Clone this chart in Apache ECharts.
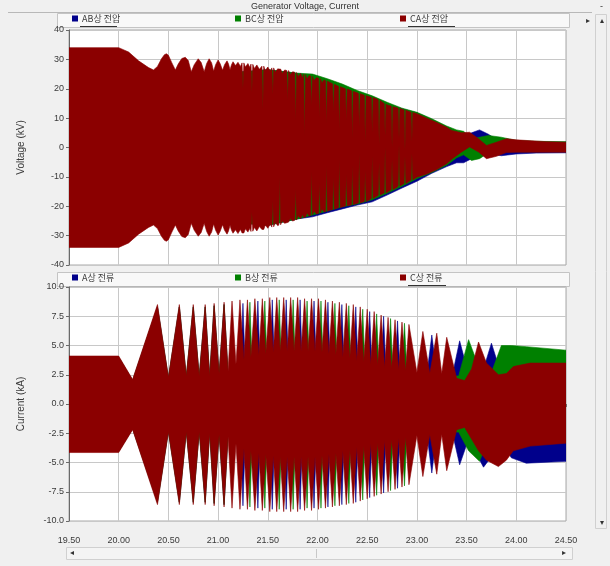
<!DOCTYPE html>
<html><head><meta charset="utf-8">
<script src="https://cdn.jsdelivr.net/npm/echarts@6/dist/echarts.min.js"></script>
<style>html,body{margin:0;padding:0;background:#f0f0f0;}#c{width:610px;height:566px;}</style>
</head><body><div id="c"></div>
<script>
const chartTitle = 'Generator Voltage, Current';
const voltNames = ['AB상 전압', 'BC상 전압', 'CA상 전압'];
const currNames = ['A상 전류', 'B상 전류', 'C상 전류'];
const phaseColors = ['#00008b', '#008000', '#8b0000'];
const voltAxisName = 'Voltage (kV)';
const currAxisName = 'Current (kA)';

// envelope rows: [time s, upper, lower]
const voltAB = [
 [19.50,33.5,-33.5],[20.00,33.5,-33.5],[20.35,25.5,-25.5],[21.15,25.5,-25.5],[21.50,26.5,-26.5],
 [21.80,25.2,-24.3],[21.95,24.4,-23.6],[22.10,22.6,-22.2],[22.25,20.8,-20.9],[22.40,19.0,-19.6],
 [22.55,17.3,-18.5],[22.70,15.0,-16.2],[22.85,13.2,-13.8],[23.00,11.8,-11.5],[23.15,9.5,-8.8],
 [23.30,6.8,-6.5],[23.40,5.5,-5.2],[23.47,4.0,-5.2],[23.55,5.0,-3.8],[23.63,6.0,-1.5],
 [23.72,4.5,-2.0],[23.85,1.5,-2.8],[24.00,1.8,-2.2],[24.20,1.8,-1.9],[24.50,1.8,-1.8]
];
const voltBC = [
 [19.50,33.5,-33.5],[20.00,33.5,-33.5],[20.35,25.5,-25.5],[21.15,25.5,-25.5],[21.50,26.5,-26.5],
 [21.80,25.3,-24.3],[21.95,25.0,-23.0],[22.10,23.4,-21.6],[22.25,21.6,-20.2],[22.40,19.4,-19.2],
 [22.55,17.6,-17.8],[22.70,15.4,-15.6],[22.85,13.4,-13.2],[23.00,12.0,-10.6],[23.15,9.8,-8.5],
 [23.30,7.3,-6.0],[23.40,6.0,-3.5],[23.47,5.5,-2.5],[23.55,3.0,-4.4],[23.63,3.5,-3.8],
 [23.72,4.1,-1.8],[23.85,3.5,-1.4],[24.00,2.4,-1.4],[24.20,2.1,-1.4],[24.50,2.0,-1.4]
];
const voltCA = [
 [19.50,34.0,-34.0],[20.00,34.0,-34.0],[20.10,32.5,-32.5],[20.20,29.5,-29.5],[20.30,27.2,-27.2],
 [20.35,26.4,-26.4],[20.39,27.6,-27.6],[20.43,30.2,-30.2],[20.46,31.6,-31.6],[20.48,31.9,-31.9],
 [20.50,31.4,-31.4],[20.535,28.8,-28.8],[20.57,26.4,-26.4],[20.60,28.5,-28.5],[20.635,30.3,-30.3],
 [20.67,30.7,-30.7],[20.70,29.6,-29.6],[20.73,25.8,-25.8],[20.76,28.2,-28.2],[20.80,30.2,-30.2],
 [20.83,28.9,-28.9],[20.86,25.8,-25.8],[20.885,28.6,-28.6],[20.91,30.2,-30.2],[20.935,28.8,-28.8],
 [20.955,26.0,-26.0],[20.975,28.2,-28.2],[21.00,29.8,-29.8],[21.02,28.6,-28.6],[21.045,26.3,-26.3],
 [21.065,28.2,-28.2],[21.09,29.5,-29.5],[21.105,28.4,-28.4],[21.12,26.5,-26.5],[21.135,28.2,-28.2],
 [21.15,29.2,-29.2],[21.175,27.9,-28.0],[21.20,29.0,-29.3],[21.225,27.6,-27.9],
 [21.241,28.8,-29.1],[21.25,20.0,-29.1],[21.259,28.8,-29.1],[21.275,27.4,-27.7],[21.30,28.6,-28.8],
 [21.32,27.2,-27.5],[21.331,28.4,-28.6],[21.34,18.8,-22.0],[21.349,28.3,-28.5],[21.365,26.9,-27.2],
 [21.39,28.1,-28.4],[21.415,26.6,-26.9],[21.441,27.7,-27.9],[21.45,13.0,-27.9],[21.459,27.7,-27.9],
 [21.475,26.2,-26.4],[21.50,27.4,-27.5],[21.525,26.0,-26.1],[21.541,27.1,-27.1],[21.55,18.0,-18.0],
 [21.559,27.1,-27.0],[21.575,25.6,-25.5],[21.60,26.8,-26.6],[21.611,26.7,-26.4],[21.62,26.7,-10.0],
 [21.629,26.7,-26.3],[21.645,25.2,-25.0],[21.67,26.4,-25.8],[21.691,26.2,-25.6],[21.70,16.0,-25.5],
 [21.709,26.2,-25.4],[21.725,24.8,-24.2],[21.75,25.8,-25.0],[21.771,25.6,-24.8],[21.78,9.0,-14.0],
 [21.789,25.5,-24.7],[21.805,24.1,-23.2],[21.83,25.2,-24.2],[21.85,23.7,-22.8],[21.861,24.9,-23.8],
 [21.87,4.0,-23.7],[21.879,24.8,-23.7],[21.895,23.3,-22.2],[21.915,24.5,-23.3],[21.931,24.3,-23.0],
 [21.94,14.0,-8.0],[21.949,24.2,-22.9],[21.965,22.8,-21.7],[21.99,23.8,-22.6],[22.011,23.5,-22.4],
 [22.02,10.0,-12.0],[22.029,23.4,-22.3],[22.045,22.0,-20.9],[22.065,23.0,-21.9],[22.081,22.7,-21.8],
 [22.09,8.0,-6.0],[22.099,22.6,-21.7],[22.12,22.2,-21.4],[22.151,21.7,-21.1],[22.16,12.0,-10.0],
 [22.169,21.5,-21.0],[22.20,21.0,-20.6],[22.211,20.8,-20.4],[22.22,6.0,-4.0],[22.229,20.7,-20.4],
 [22.281,20.0,-19.9],[22.29,9.0,-9.0],[22.299,19.9,-19.8],[22.341,19.3,-19.5],[22.35,3.0,-6.0],
 [22.359,19.1,-19.4],[22.40,18.6,-19.0],[22.411,18.4,-18.9],[22.42,7.0,-2.0],[22.429,18.3,-18.8],
 [22.471,17.8,-18.4],[22.48,2.0,-8.0],[22.489,17.7,-18.3],[22.50,17.5,-18.2],[22.541,17.1,-17.4],
 [22.55,5.0,-3.0],[22.559,17.0,-17.3],[22.60,16.5,-16.5],[22.611,16.2,-16.3],[22.62,1.0,-5.0],
 [22.629,16.0,-16.2],[22.671,15.0,-15.5],[22.68,4.0,0.0],[22.689,14.8,-15.4],[22.70,14.5,-15.2],
 [22.741,14.1,-14.4],[22.75,0.0,-4.0],[22.759,13.9,-14.3],[22.80,13.5,-13.5],[22.811,13.4,-13.2],
 [22.82,3.0,1.0],[22.829,13.3,-13.1],[22.871,12.8,-12.3],[22.88,-1.0,-3.0],[22.889,12.7,-12.2],
 [22.90,12.5,-12.0],[22.941,12.0,-11.1],[22.95,2.0,-2.0],[22.959,11.9,-11.0],[23.00,11.5,-10.1],
 [23.10,10.0,-9.0],[23.20,8.5,-7.5],[23.30,6.9,-5.5],[23.35,5.8,-4.0],[23.45,5.0,-1.5],
 [23.53,5.2,0.2],[23.62,3.0,-1.5],[23.70,0.7,-3.8],[23.80,1.8,-3.0],[23.90,3.0,-1.7],
 [24.00,2.6,-1.6],[24.15,2.3,-1.6],[24.30,2.0,-1.6],[24.50,1.8,-1.6]
];

const currA = [
 [19.50,4.0,-4.05],[20.00,4.0,-4.05],[20.14,2.0,-2.1],[20.39,8.3,-8.4],[20.50,2.2,-2.3],
 [20.61,8.3,-8.4],[20.68,2.3,-2.3],[20.75,8.3,-8.4],[20.81,2.3,-2.3],[20.87,8.3,-8.4],
 [20.915,2.3,-2.3],[20.96,8.4,-8.5],[21.01,2.4,-2.4],[21.06,8.5,-8.6],[21.10,2.6,-2.6],
 [21.225,2.5,-2.5],[21.25,8.6,-8.7],[21.275,2.5,-2.5],
 [21.375,2.5,-2.5],[21.40,8.8,-8.9],[21.425,2.5,-2.5],
 [21.52,2.5,-2.5],[21.545,8.9,-9.0],[21.57,2.5,-2.5],
 [21.66,2.5,-2.5],[21.685,8.9,-9.0],[21.71,2.5,-2.5],
 [21.80,2.5,-2.5],[21.825,8.9,-9.0],[21.85,2.5,-2.5],
 [21.94,2.5,-2.5],[21.965,8.8,-8.9],[21.99,2.5,-2.5],
 [22.08,2.5,-2.5],[22.105,8.7,-8.8],[22.13,2.5,-2.5],
 [22.22,2.5,-2.5],[22.245,8.5,-8.6],[22.27,2.5,-2.5],
 [22.36,2.5,-2.5],[22.385,8.3,-8.4],[22.41,2.5,-2.5],
 [22.50,2.5,-2.5],[22.525,7.9,-8.0],[22.55,2.5,-2.5],
 [22.64,2.5,-2.5],[22.665,7.5,-7.6],[22.69,2.5,-2.5],
 [22.78,2.5,-2.5],[22.805,7.1,-7.2],[22.83,2.5,-2.5],
 [23.10,2.5,-2.5],[23.15,5.9,-5.9],[23.20,2.5,-2.5],[23.35,2.2,-2.2],[23.43,5.4,-5.2],
 [23.52,2.5,-3.0],[23.67,3.0,-5.4],[23.75,5.2,-4.5],[23.85,2.5,-3.2],[23.95,2.5,-4.6],
 [24.10,2.6,-5.06],[24.50,2.6,-4.9]
];
const currB = [
 [19.50,4.0,-4.05],[20.00,4.0,-4.05],[20.14,2.0,-2.1],[20.39,8.3,-8.4],[20.50,2.2,-2.3],
 [20.61,8.3,-8.4],[20.68,2.3,-2.3],[20.75,8.3,-8.4],[20.81,2.3,-2.3],[20.87,8.3,-8.4],
 [20.915,2.3,-2.3],[20.96,8.4,-8.5],[21.01,2.4,-2.4],[21.06,8.5,-8.6],[21.10,2.6,-2.6],
 [21.295,2.5,-2.5],[21.32,8.7,-8.8],[21.345,2.5,-2.5],
 [21.445,2.5,-2.5],[21.47,8.8,-8.9],[21.495,2.5,-2.5],
 [21.59,2.5,-2.5],[21.615,8.9,-9.0],[21.64,2.5,-2.5],
 [21.73,2.5,-2.5],[21.755,8.9,-9.0],[21.78,2.5,-2.5],
 [21.87,2.5,-2.5],[21.895,8.8,-8.9],[21.92,2.5,-2.5],
 [22.01,2.5,-2.5],[22.035,8.8,-8.9],[22.06,2.5,-2.5],
 [22.15,2.5,-2.5],[22.175,8.6,-8.7],[22.20,2.5,-2.5],
 [22.29,2.5,-2.5],[22.315,8.4,-8.5],[22.34,2.5,-2.5],
 [22.43,2.5,-2.5],[22.455,8.1,-8.2],[22.48,2.5,-2.5],
 [22.57,2.5,-2.5],[22.595,7.7,-7.8],[22.62,2.5,-2.5],
 [22.71,2.5,-2.5],[22.735,7.3,-7.4],[22.76,2.5,-2.5],
 [22.85,2.5,-2.5],[22.875,6.9,-7.0],[22.90,2.5,-2.5],
 [23.00,2.5,-2.5],[23.13,2.5,-2.5],[23.25,2.4,-2.4],[23.42,2.4,-2.4],[23.52,5.5,-4.0],
 [23.63,3.0,-4.9],[23.72,2.0,-3.0],[23.85,5.0,-2.5],[23.95,5.0,-2.5],[24.10,4.9,-2.5],
 [24.50,4.6,-2.5]
];
const currC = [
 [19.50,4.1,-4.15],[20.00,4.1,-4.15],[20.14,2.1,-2.2],[20.39,8.5,-8.6],[20.50,2.3,-2.4],
 [20.61,8.5,-8.6],[20.68,2.4,-2.4],[20.75,8.5,-8.6],[20.81,2.4,-2.4],[20.87,8.5,-8.6],
 [20.915,2.4,-2.5],[20.96,8.6,-8.7],[21.01,2.6,-2.6],[21.06,8.7,-8.8],[21.10,2.8,-2.8],
 [21.14,8.8,-8.9],[21.18,3.4,-3.4],[21.22,8.9,-9.0],[21.26,3.8,-3.8],[21.295,8.9,-9.0],
 [21.33,4.0,-4.0],[21.37,9.0,-9.1],[21.41,4.2,-4.2],[21.445,9.0,-9.1],[21.48,4.3,-4.3],
 [21.52,9.1,-9.2],[21.555,4.4,-4.4],[21.59,9.1,-9.2],[21.625,4.5,-4.5],[21.66,9.1,-9.2],
 [21.695,4.5,-4.5],[21.73,9.1,-9.2],[21.765,4.5,-4.5],[21.80,9.1,-9.2],[21.835,4.5,-4.5],
 [21.87,9.0,-9.1],[21.905,4.5,-4.5],[21.94,9.0,-9.1],[21.975,4.5,-4.5],[22.01,9.0,-9.0],
 [22.045,4.4,-4.4],[22.08,8.9,-8.9],[22.115,4.3,-4.3],[22.15,8.8,-8.8],[22.185,4.2,-4.2],
 [22.22,8.7,-8.7],[22.255,4.0,-4.0],[22.29,8.6,-8.6],[22.325,3.9,-3.9],[22.36,8.5,-8.5],
 [22.395,3.7,-3.7],[22.43,8.3,-8.3],[22.465,3.6,-3.6],[22.50,8.1,-8.1],[22.535,3.4,-3.4],
 [22.57,7.9,-7.9],[22.605,3.3,-3.3],[22.64,7.6,-7.7],[22.675,3.1,-3.1],[22.71,7.4,-7.5],
 [22.745,3.0,-3.0],[22.78,7.2,-7.3],[22.815,2.9,-2.9],[22.85,7.0,-7.1],[22.885,2.8,-2.8],
 [22.92,6.8,-6.9],[23.00,2.7,-2.7],[23.06,6.2,-6.2],[23.13,2.6,-2.6],[23.20,6.05,-6.0],
 [23.25,2.6,-2.6],[23.30,5.7,-5.7],[23.40,2.2,-2.2],[23.48,2.0,-2.0],[23.55,3.0,-3.0],
 [23.62,5.3,-4.0],[23.70,3.5,-4.8],[23.82,2.5,-5.35],[23.90,2.6,-4.8],[23.97,3.2,-4.0],
 [24.14,3.5,-3.6],[24.50,3.5,-3.35]
];

// Each series is one filled envelope polygon, placed with the axes' own scales (api.coord).
function band(name, color, rows, axis, z) {
  return {
    type: 'custom', name: name, xAxisIndex: axis, yAxisIndex: axis, z: z,
    itemStyle: { color: color }, silent: true, animation: false, clip: true,
    encode: { x: 0, y: [1, 2] },
    data: rows,
    renderItem: function (params, api) {
      if (params.dataIndex !== 0) return null;
      const up = [], lo = [];
      for (let i = 0; i < rows.length; i++) {
        up.push(api.coord([rows[i][0], rows[i][1]]));
        lo.push(api.coord([rows[i][0], rows[i][2]]));
      }
      const pts = up.concat(lo.reverse());
      return { type: 'polygon', shape: { points: pts },
        style: { fill: color, stroke: color, lineWidth: 0.6 } };
    }
  };
}

const series = [
  band(voltNames[0], phaseColors[0], voltAB, 0, 2),
  band(voltNames[1], phaseColors[1], voltBC, 0, 3),
  band(voltNames[2], phaseColors[2], voltCA, 0, 4),
  band(currNames[0], phaseColors[0], currA, 1, 2),
  band(currNames[1], phaseColors[1], currB, 1, 3),
  band(currNames[2], phaseColors[2], currC, 1, 4)
];

const txt = '#3a3a3a';
const font = 'Liberation Sans, Arial, sans-serif';
const legendPos = [[72, 14], [235, 14], [400, 14], [72, 273], [235, 273], [400, 273]];
const legendNames = voltNames.concat(currNames);
const legends = legendNames.map((n, i) => ({
  data: [{ name: n, itemStyle: { color: phaseColors[i % 3] } }], left: legendPos[i][0], top: legendPos[i][1],
  icon: 'rect', itemWidth: 6, itemHeight: 6, itemGap: 4, selectedMode: false, padding: 0,
  textStyle: { fontSize: 9, color: txt, fontFamily: 'Noto Sans CJK KR, sans-serif', padding: [0, 0, 0, -1] }
}));

const xCommon = { type: 'value', min: 19.5, max: 24.5, interval: 0.5 };
const option = {
  backgroundColor: '#f0f0f0',
  animation: false,
  legend: legends,
  grid: [
    { left: 69, top: 30, width: 497, height: 235, show: true, backgroundColor: '#ffffff', borderColor: '#a8a8a8', borderWidth: 1 },
    { left: 69, top: 287, width: 497, height: 234, show: true, backgroundColor: '#ffffff', borderColor: '#a8a8a8', borderWidth: 1 }
  ],
  xAxis: [
    Object.assign({ gridIndex: 0, axisLine: { show: false }, axisTick: { show: false }, axisLabel: { show: false },
      splitLine: { show: true, lineStyle: { color: '#c8c8c8', width: 1 } } }, xCommon),
    Object.assign({ gridIndex: 1, offset: 10,
      axisLine: { show: true, lineStyle: { color: '#6a6a6a', width: 1 } },
      axisTick: { show: true, length: 3, lineStyle: { color: '#6a6a6a' } },
      axisLabel: { color: txt, fontSize: 9, fontFamily: font, margin: 5, formatter: v => v.toFixed(2) },
      splitLine: { show: true, lineStyle: { color: '#c8c8c8', width: 1 } } }, xCommon)
  ],
  yAxis: [
    { type: 'value', gridIndex: 0, min: -40, max: 40, interval: 10,
      name: voltAxisName, nameLocation: 'middle', nameRotate: 90, nameGap: 43,
      nameTextStyle: { color: txt, fontSize: 10, fontFamily: font },
      axisLine: { show: true, lineStyle: { color: '#6a6a6a' } },
      axisTick: { show: true, length: 3, lineStyle: { color: '#6a6a6a' } },
      axisLabel: { color: txt, fontSize: 9, fontFamily: font, margin: 5 },
      splitLine: { show: true, lineStyle: { color: '#c8c8c8', width: 1 } } },
    { type: 'value', gridIndex: 1, min: -10, max: 10, interval: 2.5,
      name: currAxisName, nameLocation: 'middle', nameRotate: 90, nameGap: 43,
      nameTextStyle: { color: txt, fontSize: 10, fontFamily: font },
      axisLine: { show: true, lineStyle: { color: '#6a6a6a' } },
      axisTick: { show: true, length: 3, lineStyle: { color: '#6a6a6a' } },
      axisLabel: { color: txt, fontSize: 9, fontFamily: font, margin: 5, formatter: v => v.toFixed(1) },
      splitLine: { show: true, lineStyle: { color: '#c8c8c8', width: 1 } } }
  ],
  graphic: [
    { type: 'line', shape: { x1: 8, y1: 12.5, x2: 592, y2: 12.5 }, style: { stroke: '#b8b8b8', lineWidth: 1 } },
    { type: 'text', left: 'center', top: 2, style: { text: chartTitle, fill: '#333', fontSize: 9, fontFamily: font } },
    { type: 'rect', z: -5, shape: { x: 57.5, y: 13.5, width: 512, height: 14 }, style: { fill: '#f8f8f8', stroke: '#c4c4c4', lineWidth: 1 } },
    { type: 'rect', z: -5, shape: { x: 57.5, y: 272.5, width: 512, height: 14 }, style: { fill: '#f8f8f8', stroke: '#c4c4c4', lineWidth: 1 } },
    { type: 'line', shape: { x1: 80, y1: 26.5, x2: 117, y2: 26.5 }, style: { stroke: '#333', lineWidth: 1 } },
    { type: 'line', shape: { x1: 408, y1: 26.5, x2: 455, y2: 26.5 }, style: { stroke: '#333', lineWidth: 1 } },
    { type: 'line', shape: { x1: 408, y1: 285.5, x2: 446, y2: 285.5 }, style: { stroke: '#333', lineWidth: 1 } },
    { type: 'rect', z: -5, shape: { x: 595.5, y: 14.5, width: 11, height: 514 }, style: { fill: '#f0f0f0', stroke: '#d0d0d0', lineWidth: 1 } },
    { type: 'text', x: 600, y: 17, style: { text: '▴', fill: '#333', fontSize: 8 } },
    { type: 'text', x: 586, y: 17, style: { text: '▸', fill: '#333', fontSize: 8 } },
    { type: 'text', x: 600, y: 519, style: { text: '▾', fill: '#333', fontSize: 8 } },
    { type: 'text', x: 600, y: 2, style: { text: '-', fill: '#333', fontSize: 9 } },
    { type: 'rect', z: -5, shape: { x: 66.5, y: 547.5, width: 506, height: 12 }, style: { fill: '#f4f4f4', stroke: '#d0d0d0', lineWidth: 1 } },
    { type: 'text', x: 70, y: 549, style: { text: '◂', fill: '#333', fontSize: 8 } },
    { type: 'text', x: 562, y: 549, style: { text: '▸', fill: '#333', fontSize: 8 } },
    { type: 'line', shape: { x1: 316.5, y1: 549, x2: 316.5, y2: 558 }, style: { stroke: '#c8c8c8', lineWidth: 1 } }
  ],
  series: series
};
const chart = echarts.init(document.getElementById('c'), null, { renderer: 'canvas' });
chart.setOption(option);
</script></body></html>
